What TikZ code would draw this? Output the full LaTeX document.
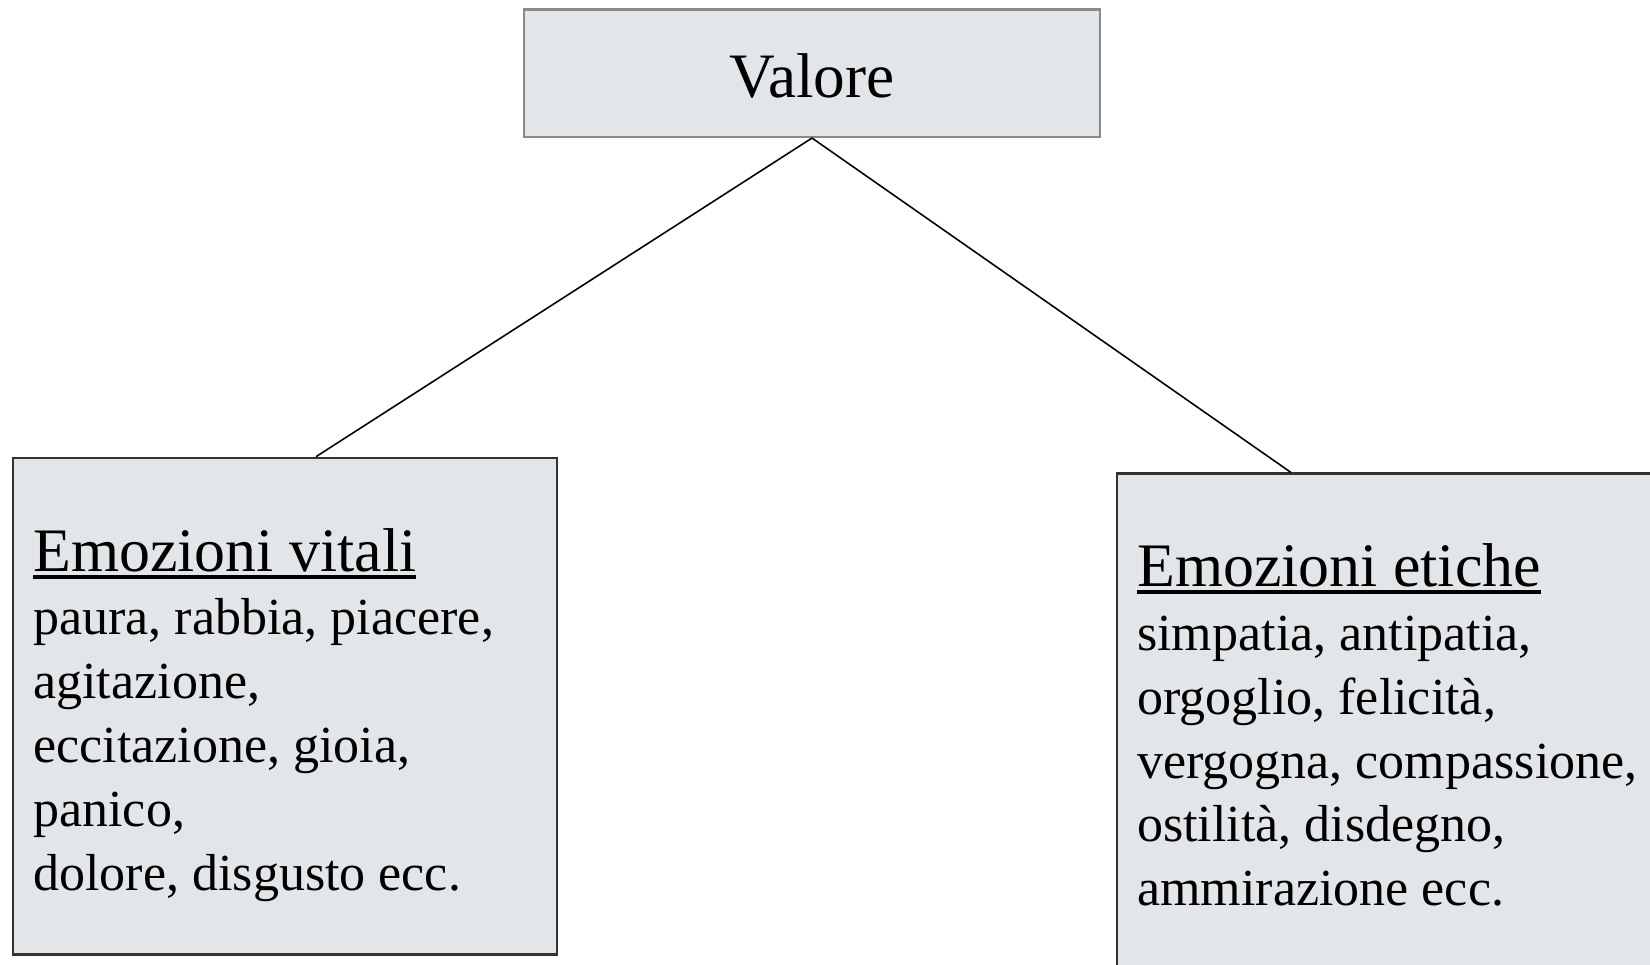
\documentclass[tikz,border=0pt]{standalone}
\usepackage{fontspec}
\setmainfont{Liberation Serif}
\usepackage{tikz}
\definecolor{boxfill}{HTML}{E3E6E9}
\definecolor{topline}{HTML}{8A8A8A}
\definecolor{boxline}{HTML}{333333}
\newcommand{\ulhead}[1]{\setbox0=\hbox{#1}\rlap{\rule[-2.2pt]{\wd0}{1.1pt}}\box0}

\begin{document}
\begin{tikzpicture}[line width = 0.45pt,
  valbox/.style = {draw = topline, line width = 0.6pt, fill = boxfill, minimum width = 5.76cm, minimum height = 1.275cm, text height = 0.49cm, text depth = 0cm, font = \fontsize{18}{22}\selectfont},
  emobox/.style = {draw = boxline, line width = 0.7pt, fill = boxfill, anchor = north west, inner sep = 0pt},
  head/.style = {anchor = base west, inner sep = 0pt, font = \fontsize{17.6}{21}\selectfont},
  item/.style = {anchor = base west, inner sep = 0pt, font = \fontsize{14.8}{18}\selectfont}]
\clip (0, 0) rectangle (16.5, -9.65);
\node[valbox] (valore) at (8.12, -0.7325) {Valore};
\node[emobox, minimum width = 5.44cm, minimum height = 4.967cm] (vitali) at (0.116, -4.567) {};
\node[emobox, minimum width = 6cm, minimum height = 5.5cm] (etiche) at (11.155, -4.725) {};
\coordinate (vit-top) at ([xshift = 3.044cm] vitali.north west);
\coordinate (eti-top) at ([xshift = 1.755cm] etiche.north west);
\draw (valore.south) -- (vit-top);
\draw (valore.south) -- (eti-top);
\node[head] (vit-head) at (0.326, -5.714) {\ulhead{Emozioni vitali}};
\foreach \t [count = \i] in {{paura, rabbia, piacere,}, {agitazione,}, {eccitazione, gioia,}, {panico,}, {dolore, disgusto ecc.}}{\node[item] (vit-\i) at (0.326, {-5.706 - 0.639 * \i}) {\t};}
\node[head] (eti-head) at (11.365, -5.861) {\ulhead{Emozioni etiche}};
\foreach \t [count = \i] in {{simpatia, antipatia,}, {orgoglio, felicità,}, {vergogna, compassione,}, {ostilità, disdegno,}, {ammirazione ecc.}}{\node[item] (eti-\i) at (11.365, {-5.864 - 0.639 * \i}) {\t};}
\end{tikzpicture}
\end{document}
